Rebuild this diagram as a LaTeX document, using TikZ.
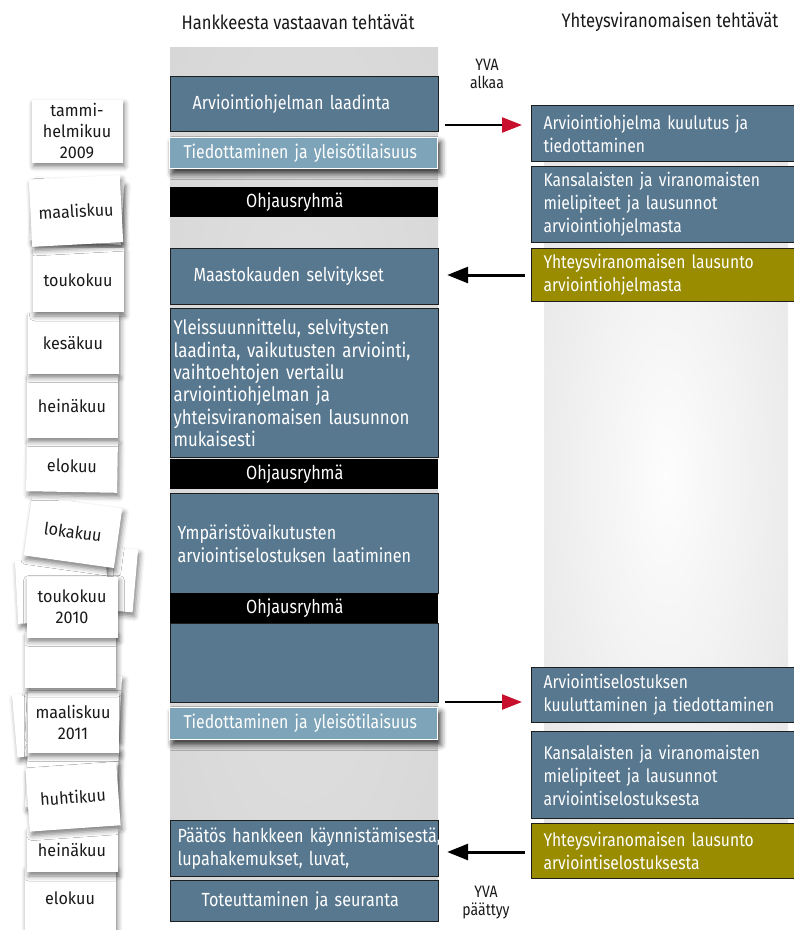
\documentclass[tikz,border=0pt]{standalone}
\usepackage{fontspec}
\setmainfont{Fira Sans}[FakeStretch=0.85]
\newfontfamily\cardfont{Fira Sans}[FakeStretch=0.95]
\usetikzlibrary{arrows.meta,shadows.blur}
\definecolor{boxblue}{HTML}{587890}
\definecolor{boxlight}{HTML}{7EA4B9}
\definecolor{olivec}{HTML}{998C00}
\definecolor{edgec}{HTML}{1E1E1E}
\definecolor{arrowred}{HTML}{C8102E}
\definecolor{rcin}{HTML}{FDFDFD}
\definecolor{rcout}{HTML}{DADADA}
\definecolor{lcin}{HTML}{E2E2E2}
\definecolor{lcout}{HTML}{D2D2D2}
\pgfdeclareradialshading{rcolshade}{\pgfpoint{0bp}{0bp}}{color(0bp)=(rcin); color(50bp)=(rcout); color(72bp)=(rcout)}
\pgfdeclareradialshading{lcolshade}{\pgfpoint{0bp}{0bp}}{color(0bp)=(lcin); color(50bp)=(lcout); color(72bp)=(lcout)}
\tikzset{
  base/.style={rectangle, inner ysep=0pt, font=\fontsize{18.4}{23}\selectfont, text=white, align=left, anchor=north west},
  lfont/.style={font=\fontsize{19}{22.4}\selectfont},
  bluebox/.style={base, fill=boxblue, draw=edgec, line width=1.2pt},
  lightbox/.style={base, fill=boxlight, draw=white, line width=1pt, font=\fontsize{18.6}{22}\selectfont,
     blur shadow={shadow xshift=3pt, shadow yshift=-5pt, shadow blur radius=6pt, shadow opacity=80}},
  band/.style={base, fill=black, lfont},
  olivebox/.style={base, fill=olivec, draw=edgec, line width=1.2pt},
  card/.style={rectangle, fill=white, minimum width=91pt, minimum height=63pt, inner sep=0pt,
     font=\cardfont\fontsize{17}{21}\selectfont, text=black!90, align=center,
     blur shadow={shadow xshift=2pt, shadow yshift=-4pt, shadow blur radius=5pt, shadow opacity=50}},
  hdr/.style={font=\fontsize{19.5}{23}\selectfont, text=black!90},
  yva/.style={font=\fontsize{16.5}{18}\selectfont, text=black!90, align=center},
  rarrow/.style={line width=2.4pt, -{Triangle[length=20pt,width=15pt,color=arrowred]}},
  larrow/.style={line width=3pt, -{Triangle[length=21pt,width=16pt]}}
}
\begin{document}
\begin{tikzpicture}[x=1pt,y=-1pt]
\useasboundingbox (0,0) rectangle (794,930);
\clip (0,0) rectangle (794,930);
% columns
\shade[shading=rcolshade] (544,130) rectangle (788,823);
\shade[shading=lcolshade] (170,47) rectangle (438,880);
% back cards
\node[card, rotate=-3] (bk1) at (77,211) {};
\node[card, rotate=-5] (bk2) at (90,577) {};
\node[card, rotate=3] (bk3) at (62,590) {};
\node[card, rotate=5] (bk4) at (60,722) {};
\node[card, rotate=-3] (bk5) at (75,705) {};
\node[card, rotate=-3] (bk6) at (72,778) {};
% front cards, bottom first
\node[card, minimum height=63pt] (c13) at (70,898) {elokuu};
\node[card, minimum height=44pt] (c12) at (72,850) {heinäkuu};
\node[card, rotate=4] (c11) at (73,797) {huhtikuu};
\node[card, minimum height=61pt] (c10) at (73,722) {maaliskuu\\2011};
\node[card, minimum height=56pt] (c9) at (70,660) {};
\node[card, minimum height=61pt] (c8) at (72,607) {toukokuu\\2010};
\node[card, rotate=-8, minimum height=60pt] (c7) at (73,532) {lokakuu};
\node[card, rotate=-1, minimum height=52pt] (c6) at (72,466) {elokuu};
\node[card] (c5) at (72,406) {heinäkuu};
\node[card, minimum height=61pt] (c4) at (73,343) {kesäkuu};
\node[card, minimum height=64pt] (c3) at (78,280) {toukokuu};
\node[card, rotate=3, minimum height=67pt] (c2) at (76,211) {maaliskuu};
\node[card] (c1) at (77,131) {tammi-\\helmikuu\\2009};
% left column boxes
\node[bluebox, lfont, minimum height=55pt, inner xsep=22pt, text width=224pt] (b1) at (170,76) {Arviointiohjelman laadinta};
\node[lightbox, minimum height=31pt, inner xsep=14pt, text width=240pt] (t1) at (169,137) {\mbox{Tiedottaminen ja yleisötilaisuus}};
\node[band, minimum height=30pt, inner xsep=76pt, text width=116pt] (o1) at (170,187) {Ohjausryhmä};
\node[bluebox, lfont, minimum height=56pt, inner xsep=23pt, text width=222pt] (m1) at (170,248) {Maastokauden selvitykset};
\node[bluebox, font=\fontsize{19.8}{22.4}\selectfont, minimum height=149pt, inner xsep=3pt, text width=262pt] (y1) at (170,308) {Yleissuunnittelu, selvitysten\\laadinta, vaikutusten arviointi,\\vaihtoehtojen vertailu\\arviointiohjelman ja\\yhteisviranomaisen lausunnon\\mukaisesti};
\node[band, minimum height=30pt, inner xsep=76pt, text width=116pt] (o2) at (170,459) {Ohjausryhmä};
\node[bluebox, lfont, minimum height=100pt, inner xsep=7pt, text width=254pt] (e1) at (170,493) {Ympäristövaikutusten\\arviointiselostuksen laatiminen};
\node[bluebox, minimum height=79pt, inner xsep=7pt, text width=254pt] (e2) at (170,623) {};
\node[band, minimum height=30pt, inner xsep=76pt, text width=116pt] (o3) at (170,593) {Ohjausryhmä};
\node[lightbox, minimum height=32pt, inner xsep=14pt, text width=240pt] (t2) at (169,707) {\mbox{Tiedottaminen ja yleisötilaisuus}};
\node[bluebox, lfont, minimum height=56pt, inner xsep=7pt, text width=254pt] (p1) at (170,820) {\mbox{Päätös hankkeen käynnistämisestä,}\\lupahakemukset, luvat,};
\node[bluebox, lfont, minimum height=41pt, inner xsep=31pt, text width=206pt] (r1) at (170,880) {Toteuttaminen ja seuranta};
% right column boxes
\node[bluebox, minimum height=56pt, inner xsep=12pt, text width=246pt] (R1) at (531,105) {Arviointiohjelma kuulutus ja\\tiedottaminen};
\node[bluebox, minimum height=76pt, inner xsep=12pt, text width=246pt] (R2) at (531,166) {Kansalaisten ja viranomaisten\\mielipiteet ja lausunnot\\arviointiohjelmasta};
\node[olivebox, minimum height=53pt, inner xsep=12pt, text width=246pt] (R3) at (531,248) {Yhteysviranomaisen lausunto\\arviointiohjelmasta};
\node[bluebox, minimum height=55pt, inner xsep=12pt, text width=246pt] (R4) at (531,667) {Arviointiselostuksen\\kuuluttaminen ja tiedottaminen};
\node[bluebox, minimum height=87pt, inner xsep=12pt, text width=246pt] (R5) at (531,731) {Kansalaisten ja viranomaisten\\mielipiteet ja lausunnot\\arviointiselostuksesta};
\node[olivebox, minimum height=55pt, inner xsep=12pt, text width=246pt] (R6) at (531,823) {Yhteysviranomaisen lausunto\\arviointiselostuksesta};
% arrows
\draw[rarrow, shorten <=6pt, shorten >=9pt] (b1.east |- 0,125) -- (R1.west |- 0,125);
\draw[larrow, shorten <=6pt, shorten >=8pt] (R3.west |- 0,275) -- (m1.east |- 0,275);
\draw[rarrow, shorten <=6pt, shorten >=9pt] (e2.east |- 0,702) -- (R4.west |- 0,702);
\draw[larrow, shorten <=6pt, shorten >=8pt] (R6.west |- 0,852) -- (p1.east |- 0,852);
% labels
\node[hdr] (h1) at (298,22) {Hankkeesta vastaavan tehtävät};
\node[hdr] (h2) at (670,22) {Yhteysviranomaisen tehtävät};
\node[yva] (yva1) at (487,74) {YVA\\alkaa};
\node[yva] (yva2) at (486,903) {YVA\\päättyy};
\end{tikzpicture}
\end{document}
